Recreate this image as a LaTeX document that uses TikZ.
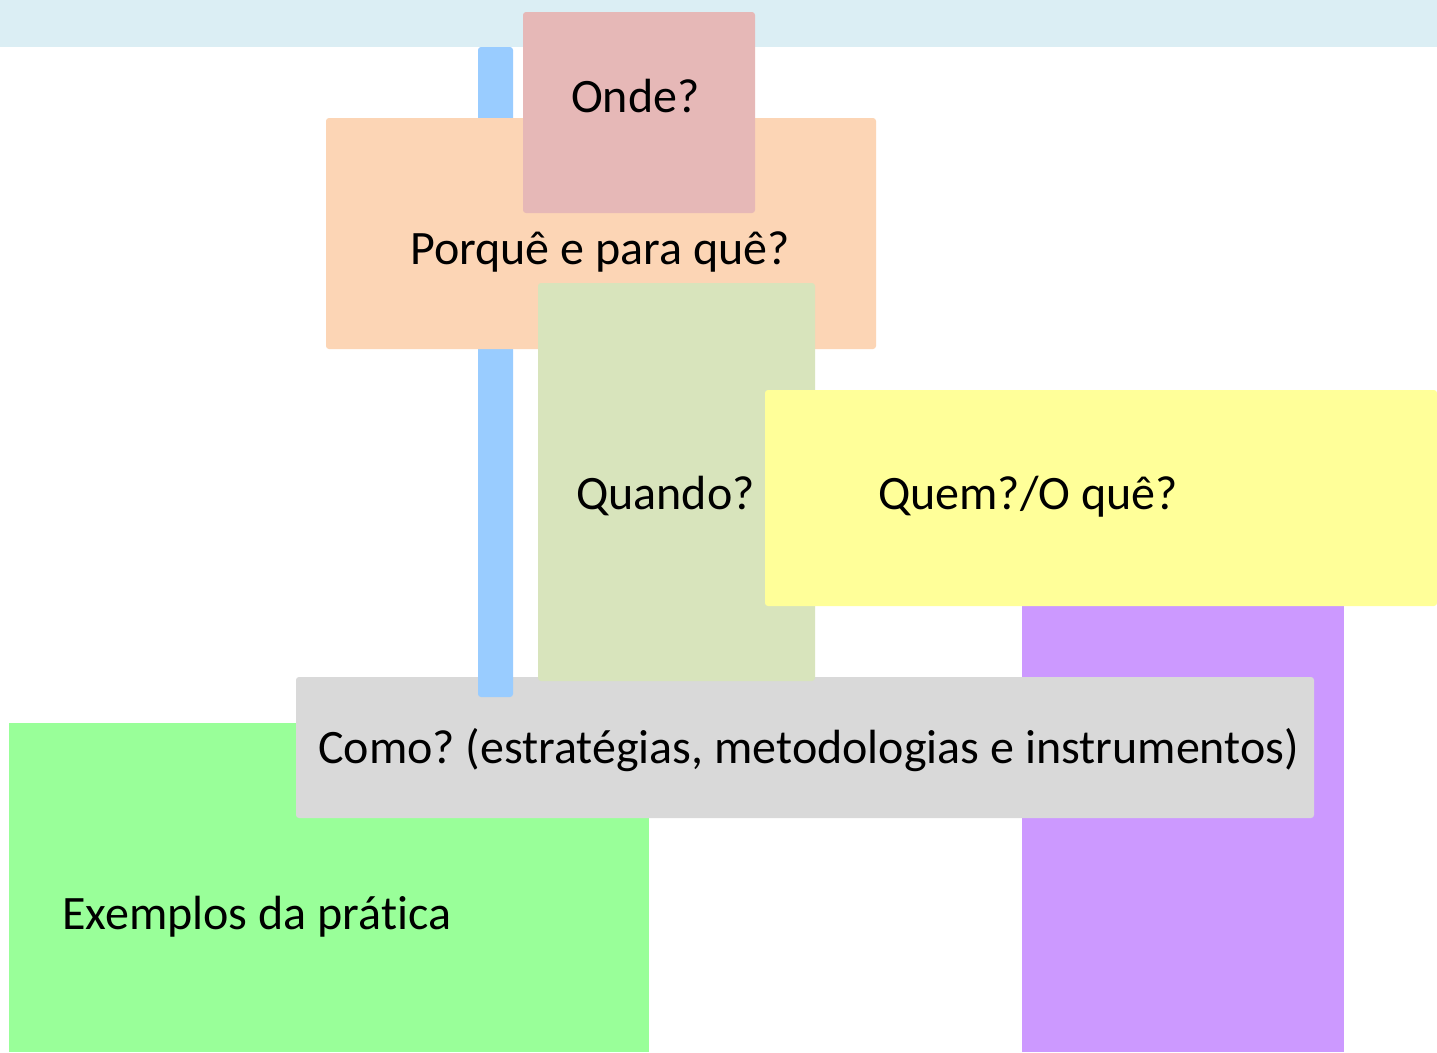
\documentclass[tikz,border=0pt]{standalone}
\usepackage{fontspec}
\setmainfont[Ligatures={NoCommon}]{Carlito}
\frenchspacing
\definecolor{bandc}{HTML}{DBEEF4}
\definecolor{barc}{HTML}{99CCFF}
\definecolor{ondec}{HTML}{E6B8B7}
\definecolor{porquec}{HTML}{FCD5B5}
\definecolor{quandoc}{HTML}{D8E4BC}
\definecolor{quemc}{HTML}{FFFF99}
\definecolor{purplec}{HTML}{CC99FF}
\definecolor{comoc}{HTML}{D9D9D9}
\definecolor{exc}{HTML}{99FF99}
\begin{document}
\begin{tikzpicture}[x=1pt,y=-1pt,
  box/.style={draw=none,rounded corners=3pt,inner sep=0pt,outer sep=0pt,anchor=north west},
  lbl/.style={inner sep=0pt,anchor=base west,font=\fontsize{48}{58}\selectfont}]
\useasboundingbox (0,0) rectangle (1437,1052);
\fill[white] (0,0) rectangle (1437,1052);
% top band
\node[box,rounded corners=0pt,fill=bandc,minimum width=1437pt,minimum height=47pt] (band) at (0,0) {};
% green
\node[box,rounded corners=0pt,fill=exc,minimum width=640pt,minimum height=329pt] (ex) at (9,723) {};
% purple
\node[box,rounded corners=0pt,fill=purplec,minimum width=322pt,minimum height=446pt] (pur) at (1022,606) {};
% grey
\node[box,fill=comoc,minimum width=1018pt,minimum height=141pt] (como) at (296,677) {};
% blue bar
\node[box,fill=barc,minimum width=35pt,minimum height=650pt] (bar) at (478,47) {};
% porque
\node[box,fill=porquec,minimum width=550pt,minimum height=231pt] (porque) at (326,118) {};
% onde
\node[box,fill=ondec,minimum width=232pt,minimum height=201pt] (onde) at (523,12) {};
% quando
\node[box,fill=quandoc,minimum width=277pt,minimum height=398pt] (quando) at (538,283) {};
% yellow
\node[box,fill=quemc,minimum width=672pt,minimum height=216pt] (quem) at (765,390) {};
% labels
\node[lbl] (tonde) at (571,112) {Onde?};
\node[lbl] (tporque) at (410,264) {Porquê e para quê?};
\node[lbl] (tquando) at (576,509) {Quando?};
\node[lbl] (tquem) at (878,509) {Quem?/O quê?};
\node[lbl] (tcomo) at (318,763) {Como? (estratégias, metodologias e instrumentos)};
\node[lbl] (tex) at (62,929) {Exemplos da prática};
\end{tikzpicture}
\end{document}
